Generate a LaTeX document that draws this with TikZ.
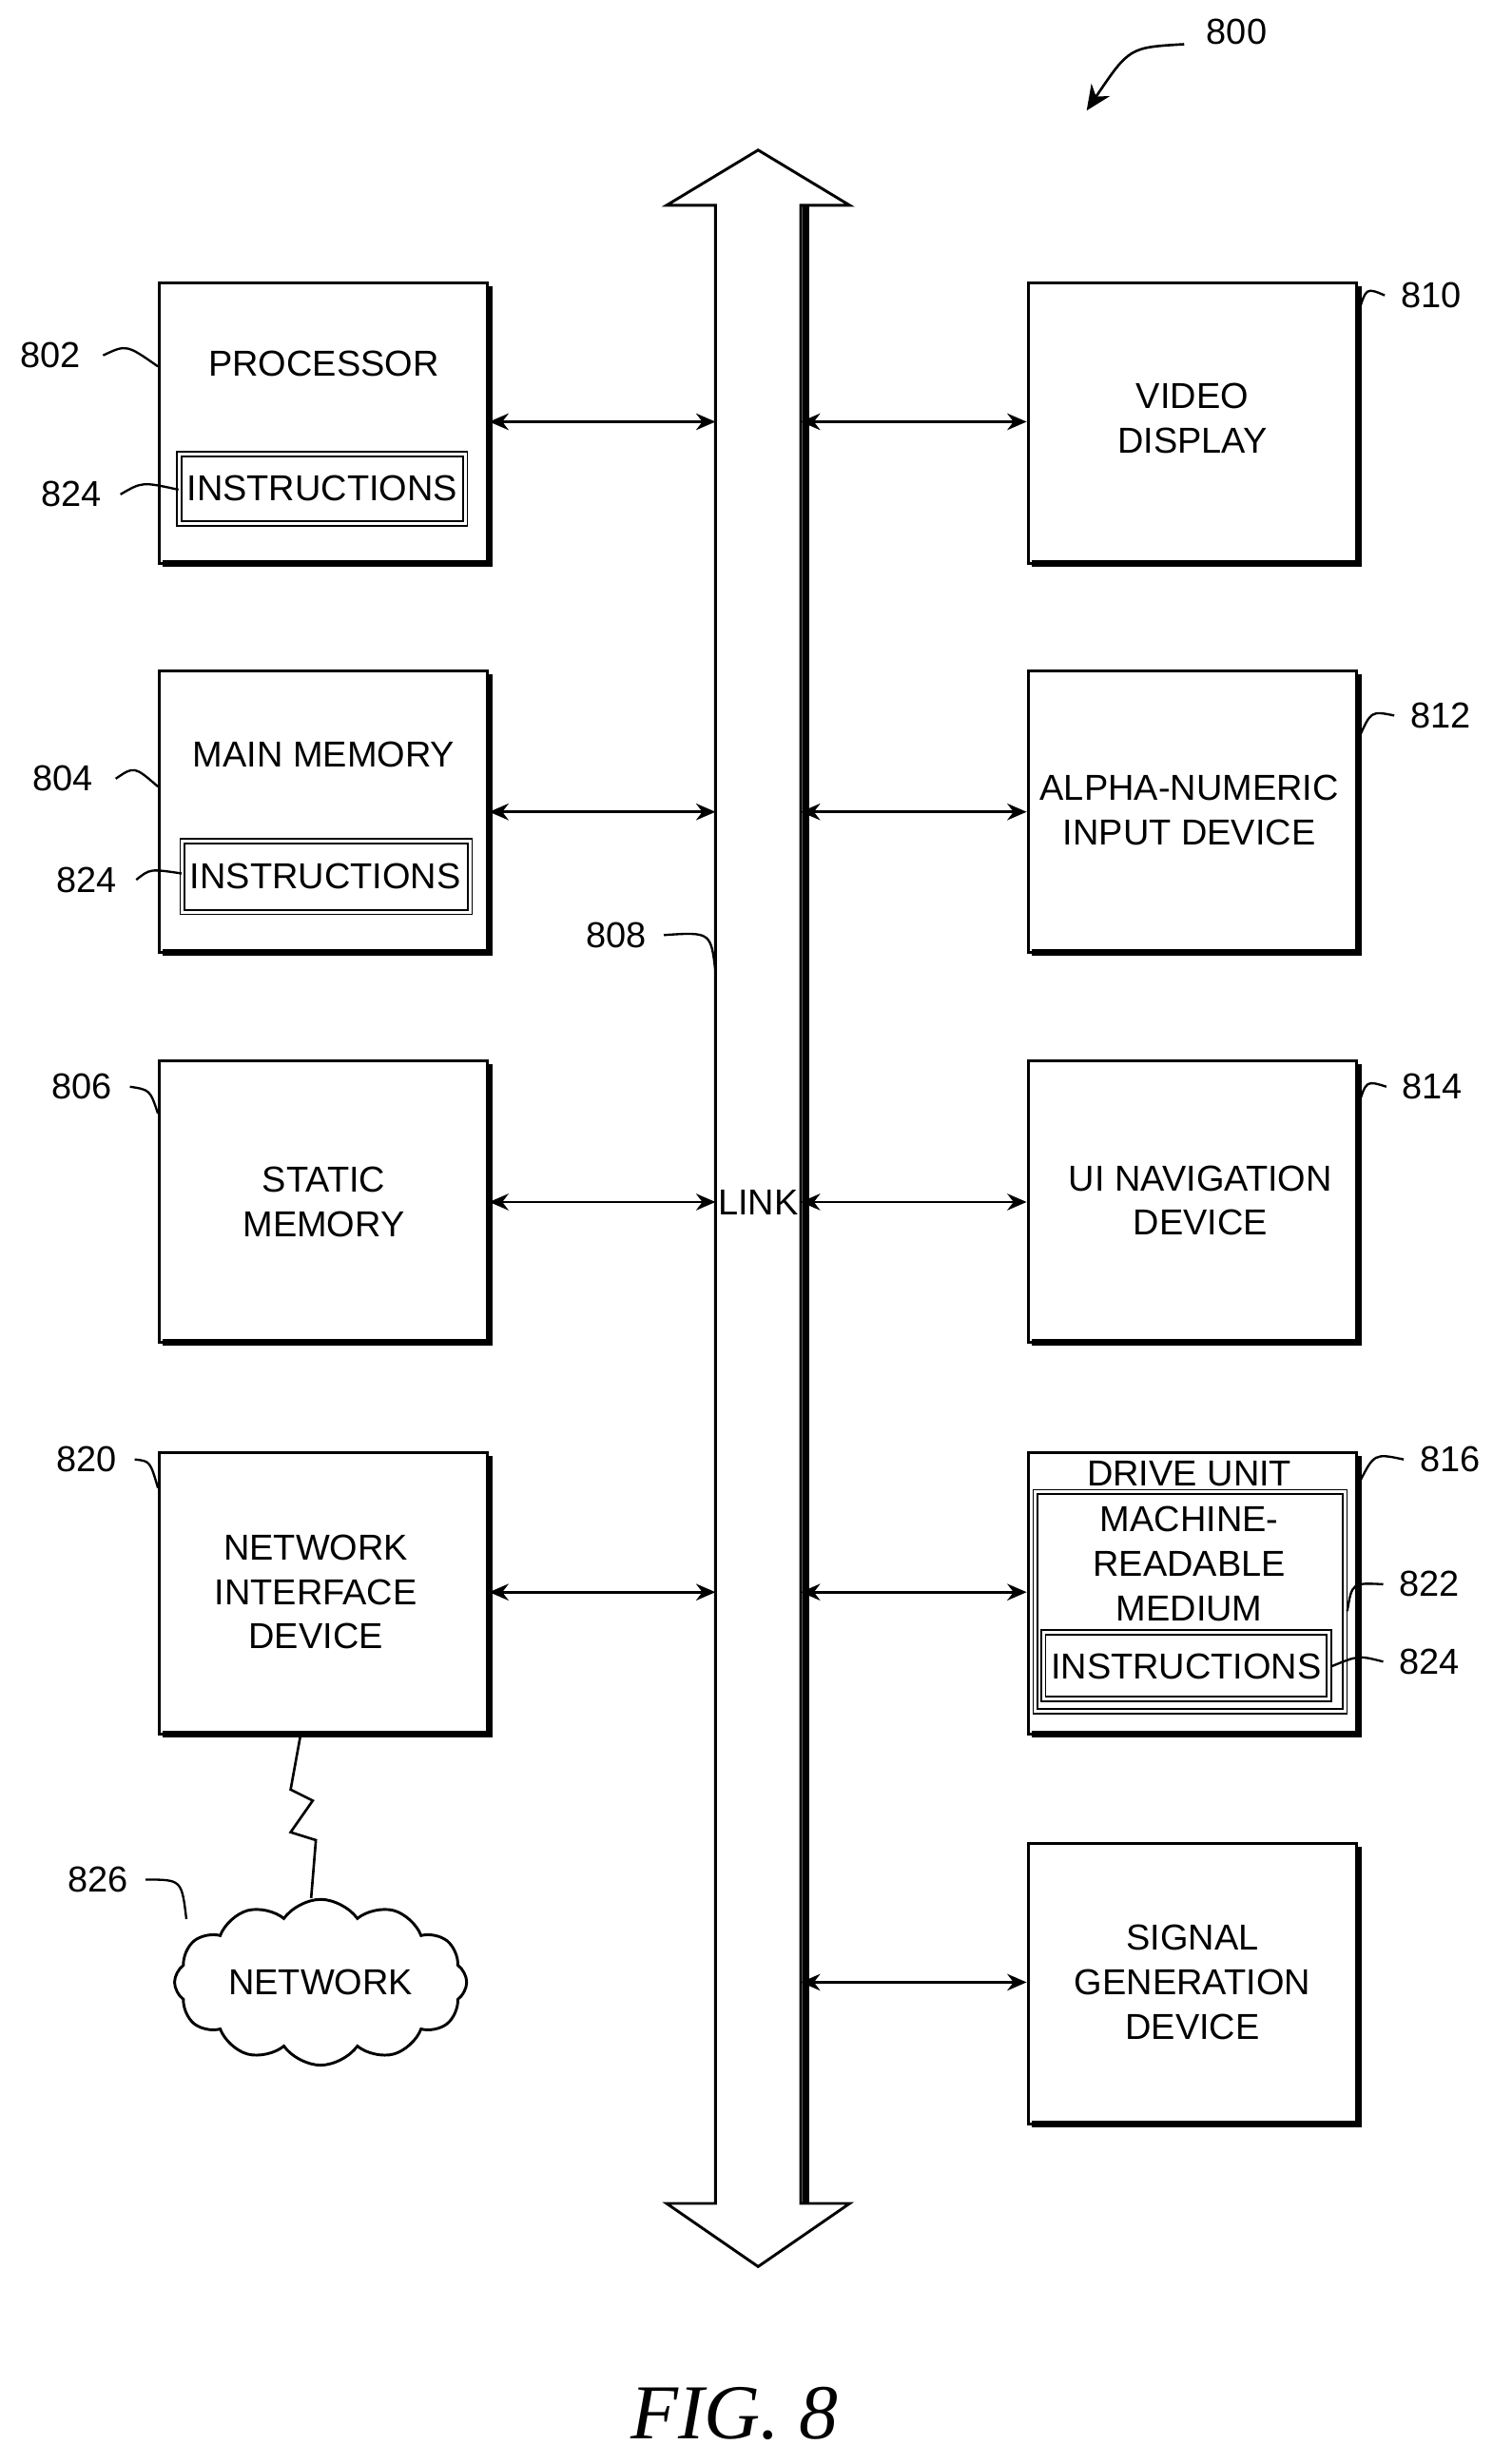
\documentclass[tikz,border=0pt]{standalone}
\usepackage{fontspec}
\setmainfont{Liberation Sans}
\newfontfamily\figfont{Liberation Serif}
\usetikzlibrary{shapes.symbols,arrows.meta}
\begin{document}
\begin{tikzpicture}[x=0.02cm,y=-0.02cm,
  box/.style={draw,line width=1pt,inner sep=0,anchor=north west},
  txt/.style={font=\fontsize{13}{16}\selectfont,align=center},
  lbl/.style={font=\fontsize{13}{15}\selectfont},
  lead/.style={line width=0.8pt},
  conn/.style={line width=0.9pt,{Stealth[length=7pt,width=6pt]}-{Stealth[length=7pt,width=6pt]}}]
\useasboundingbox (0,0) rectangle (945,1560);
% boxes
\foreach \n/\x/\y in {proc/100/178,mm/100/424,sm/100/671,ni/100/919,vd/650/178,an/650/424,ui/650/671,du/650/919,sg/650/1166}{
  \draw[line width=2.4pt] (\x+210,\y+3) -- (\x+210,\y+179) -- (\x+3,\y+179);
  \node[box,minimum width=4.16cm,minimum height=3.56cm] (\n) at (\x,\y) {};
}
\node[txt] at (205,230) {PROCESSOR};
\node[txt] at (205,478) {MAIN MEMORY};
\node[txt] at (205,761) {STATIC\\MEMORY};
\node[txt] at (200,1008) {NETWORK\\INTERFACE\\DEVICE};
\node[txt] at (755,265) {VIDEO\\DISPLAY};
\node[txt] at (753,513) {ALPHA-NUMERIC\\INPUT DEVICE};
\node[txt] at (760,760) {UI NAVIGATION\\DEVICE};
\node[txt] at (755,1255) {SIGNAL\\GENERATION\\DEVICE};
\node[txt] at (753,933) {DRIVE UNIT};
% instructions boxes
\node[box,line width=0.6pt,double,double distance=1pt,minimum width=3.62cm,minimum height=0.88cm] (i1) at (113,287) {};
\node[txt] at (204,309) {INSTRUCTIONS};
\node[box,line width=0.6pt,double,double distance=1pt,minimum width=3.64cm,minimum height=0.9cm] (i2) at (115,532) {};
\node[txt] at (206,555) {INSTRUCTIONS};
\node[box,line width=0.6pt,double,double distance=1pt,minimum width=3.92cm,minimum height=2.78cm] (mrm) at (655,944) {};
\node[txt] at (753,990) {MACHINE-\\READABLE\\MEDIUM};
\node[box,line width=0.6pt,double,double distance=1pt,minimum width=3.62cm,minimum height=0.84cm] (i3) at (660,1033) {};
\node[txt] at (751,1055) {INSTRUCTIONS};
% bus
\draw[line width=2.4pt] (510,130) -- (510,1395);
\draw[line width=1pt,fill=white] (453,130) -- (422,130) -- (480,95) -- (538,130) -- (507,130) -- (507,1395) -- (538,1395) -- (480,1435) -- (422,1395) -- (453,1395) -- cycle;
\node[txt] (link) at (480,761) {LINK};
\foreach \i/\y in {1/267,2/514,3/761,4/1008}{\coordinate (bl\i) at (453,\y);}
\foreach \i/\y in {1/267,2/514,3/761,4/1008,5/1255}{\coordinate (br\i) at (507,\y);}
\draw[conn] (proc.east|-bl1) -- (bl1);
\draw[conn] (mm.east|-bl2) -- (bl2);
\draw[conn] (sm.east|-bl3) -- (bl3);
\draw[conn] (ni.east|-bl4) -- (bl4);
\draw[conn] (br1) -- (vd.west|-br1);
\draw[conn] (br2) -- (an.west|-br2);
\draw[conn] (br3) -- (ui.west|-br3);
\draw[conn] (br4) -- (du.west|-br4);
\draw[conn] (br5) -- (sg.west|-br5);
% cloud
\node[cloud,draw,line width=1pt,cloud puffs=12,cloud puff arc=110,aspect=2.1,inner sep=0pt,minimum width=3.7cm,minimum height=2.1cm,txt] (net) at (203,1255) {NETWORK};
\draw[line width=0.9pt] (net.north) ++(-6,0) -- (200,1165) -- (184,1160) -- (198,1140) -- (184,1133) -- (190,1100);
% labels
\node[lbl] (l802) at (32,225) {802};
\draw[lead] (l802.east) ++(8,0) .. controls (80,218) .. (100,232);
\node[lbl] (l824a) at (45,313) {824};
\draw[lead] (l824a.east) ++(6,0) .. controls (90,305) .. (113,310);
\node[lbl] (l804) at (40,493) {804};
\draw[lead] (l804.east) ++(8,0) .. controls (85,485) .. (100,498);
\node[lbl] (l824b) at (55,557) {824};
\draw[lead] (l824b.east) ++(6,0) .. controls (95,550) .. (115,553);
\node[lbl] (l806) at (52,688) {806};
\draw[lead] (l806.east) ++(5,0) .. controls (95,690) .. (100,705);
\node[lbl] (l820) at (55,924) {820};
\draw[lead] (l820.east) ++(5,0) .. controls (95,925) .. (100,942);
\node[lbl] (l826) at (62,1190) {826};
\draw[lead] (l826.east) ++(5,0) .. controls (115,1190) .. (118,1215);
\node[lbl] (l808) at (390,592) {808};
\draw[lead] (l808.east) ++(5,0) .. controls (450,590) .. (453,615);
\node[lbl] (l810) at (906,187) {810};
\draw[lead] (l810.west) ++(-4,0) .. controls (865,182) .. (860,198);
\node[lbl] (l812) at (912,453) {812};
\draw[lead] (l812.west) ++(-4,0) .. controls (868,450) .. (860,468);
\node[lbl] (l814) at (907,688) {814};
\draw[lead] (l814.west) ++(-4,0) .. controls (865,684) .. (860,700);
\node[lbl] (l816) at (918,924) {816};
\draw[lead] (l816.west) ++(-4,0) .. controls (870,920) .. (860,940);
\node[lbl] (l822) at (905,1003) {822};
\draw[lead] (l822.west) ++(-4,0) .. controls (856,1002) .. (853,1020);
\node[lbl] (l824c) at (905,1052) {824};
\draw[lead] (l824c.west) ++(-4,0) .. controls (860,1048) .. (843,1055);
\node[lbl] (l800) at (783,20) {800};
\coordinate (a800) at (688,70);
\draw[line width=0.9pt,-{Stealth[length=9pt,width=8pt]}] (l800.west) ++(-8,8) .. controls (715,30) .. (a800);
\node[font=\figfont\itshape\fontsize{28}{32}\selectfont] (fig) at (465,1528) {FIG. 8};
\end{tikzpicture}
\end{document}
